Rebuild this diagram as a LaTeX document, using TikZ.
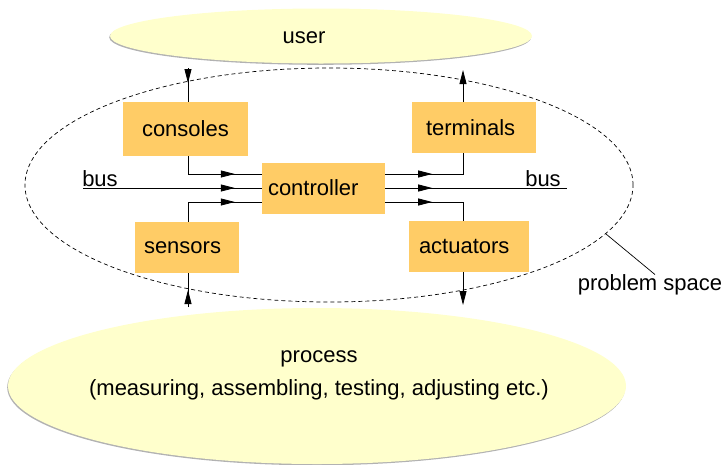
\documentclass[tikz,border=0pt]{standalone}
\usepackage{fontspec}
\setmainfont{Liberation Sans}
\usetikzlibrary{shapes.geometric,arrows.meta,decorations.markings,shadows}
\definecolor{boxorange}{HTML}{FFCC66}
\definecolor{paleyellow}{HTML}{FFFFCC}
\tikzset{
  lbl/.style={font=\fontsize{22}{26}\selectfont, inner sep=0pt},
  boxnode/.style={lbl, fill=boxorange, align=left, inner ysep=0pt},
  yellowell/.style={ellipse, fill=paleyellow, inner sep=0pt,
    drop shadow={shadow xshift=-0.8pt, shadow yshift=-1.3pt, fill=black!30, opacity=1}},
  conn/.style={line width=0.8pt, draw=black},
  tipshape/.tip={Triangle[length=14pt,width=7pt]},
  arrowat/.style={postaction={decorate, decoration={markings,
    mark=at position #1 with {\arrow{tipshape}}}}},
}
\begin{document}
\begin{tikzpicture}[x=1pt,y=-1pt]
\useasboundingbox (0,0) rectangle (725,464);
% ellipses
\node[yellowell, minimum width=422pt, minimum height=55pt] (user) at (321,36) {};
\node[lbl] (usertext) at (304,38) {user};
\node[yellowell, minimum width=618pt, minimum height=156pt] (process) at (317,386) {};
\node[lbl, align=center] (processtext) at (319,375) {process\\[7pt](measuring, assembling, testing, adjusting etc.)};
\node[ellipse, draw, line width=0.7pt, dash pattern=on 4pt off 3pt, inner sep=0pt,
      minimum width=608pt, minimum height=234pt] (ps) at (329,185) {};
% boxes
\node[boxnode, text width=87pt, inner xsep=19pt, minimum height=54pt] (consoles) at (185.5,129) {consoles};
\node[boxnode, text width=86pt, inner xsep=9pt, minimum height=51pt] (sensors) at (187,247.5) {sensors};
\node[boxnode, text width=111pt, inner xsep=6pt, minimum height=51pt] (controller) at (323.5,188) {controller};
\node[boxnode, text width=96pt, inner xsep=14pt, minimum height=51pt] (terminals) at (474,127.5) {terminals};
\node[boxnode, text width=100pt, inner xsep=10pt, minimum height=51pt] (actuators) at (469,246.5) {actuators};
% bus labels
\node[lbl, anchor=base] (busleft) at (100,186) {bus};
\node[lbl, anchor=base] (busright) at (543,186) {bus};
% free ends
\coordinate (busL) at (83,188);
\coordinate (busR) at (567,188);
\coordinate (cTop) at (188,68);
\coordinate (tTop) at (463,70);
\coordinate (sBot) at (188,307);
\coordinate (aBot) at (463,305);
% left side into controller
\draw[conn, arrowat=-27pt] ([xshift=2.5pt]consoles.south) |- ([yshift=14pt]controller.west);
\draw[conn, arrowat=-27pt] (busL) -- (controller.west);
\draw[conn, arrowat=-27pt] ([xshift=1pt]sensors.north) |- ([yshift=-14pt]controller.west);
% right side out of controller
\draw[conn, arrowat=47pt] ([yshift=14pt]controller.east) -| ([xshift=-11pt]terminals.south);
\draw[conn, arrowat=47pt] (controller.east) -- (busR);
\draw[conn, arrowat=47pt] ([yshift=-14pt]controller.east) -| ([xshift=-6pt]actuators.north);
% vertical links to user and process
\draw[conn, arrowat=15pt] (cTop) -- ([xshift=2.5pt]consoles.north);
\draw[conn, -{tipshape}] ([xshift=-11pt]terminals.north) -- (tTop);
\draw[conn, arrowat=17pt] (sBot) -- ([xshift=1pt]sensors.south);
\draw[conn, -{tipshape}] ([xshift=-6pt]actuators.south) -- (aBot);
% problem space label
\node[lbl] (pslabel) at (650,285) {problem space};
\draw[line width=0.7pt] (ps.-10.3) -- ([xshift=5pt]pslabel.north);
\end{tikzpicture}
\end{document}
